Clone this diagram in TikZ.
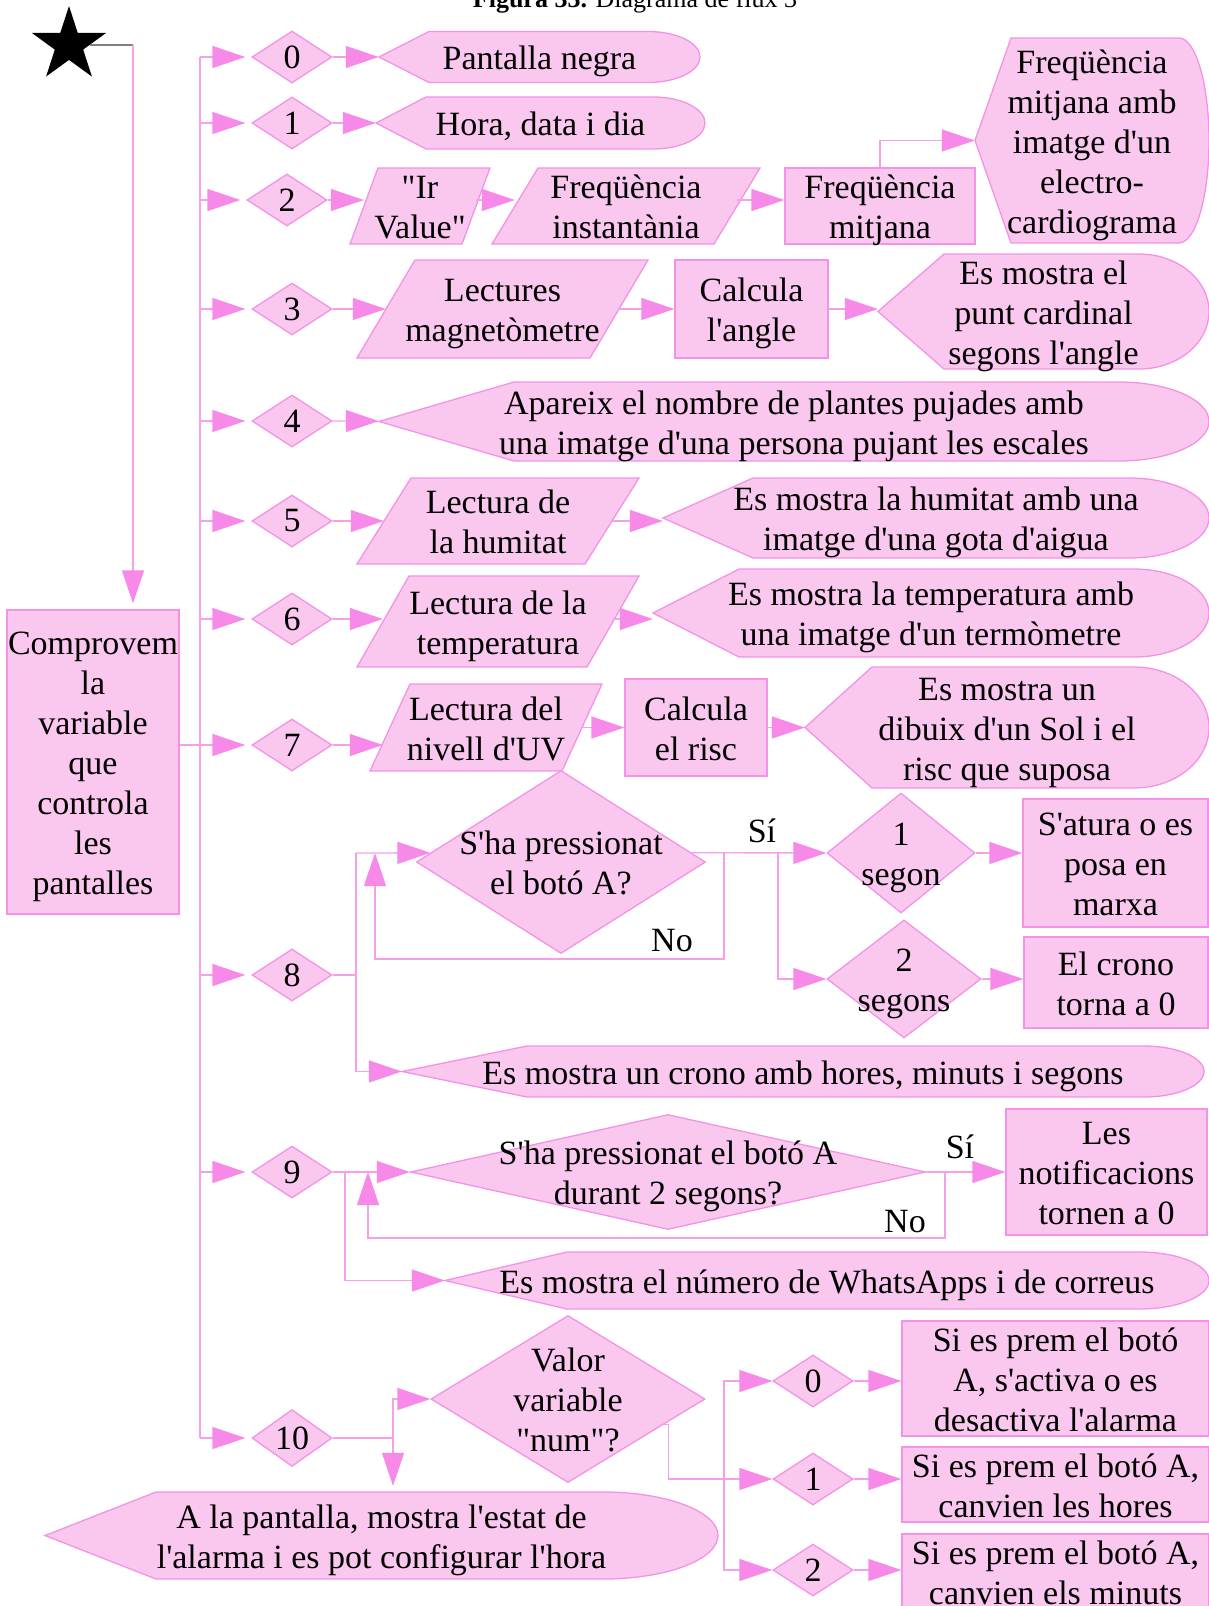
\documentclass[tikz,border=0pt]{standalone}
\usepackage{fontspec}
\setmainfont{Liberation Serif}[Ligatures=TeXOff]
\usetikzlibrary{arrows.meta,calc,shapes.geometric}
\definecolor{boxpink}{RGB}{250,200,238}
\definecolor{edgepink}{RGB}{243,146,230}
\definecolor{linkpink}{RGB}{246,160,236}
\definecolor{tippink}{RGB}{247,138,232}
\newcommand{\upstrut}{\rule{0pt}{33pt}}
\begin{document}
\begin{tikzpicture}[x=1pt,y=-1pt,font={\fontsize{34}{40}\selectfont}]
\tikzstyle{box}=[draw=edgepink,fill=boxpink,line width=1.3pt]
\tikzstyle{txt}=[inner sep=0pt,align=center,execute at begin node={\upstrut},execute at end node={\rule[-7.5pt]{0pt}{7.5pt}}]
\tikzstyle{proc}=[box,txt,inner ysep=-3pt]
\tikzstyle{dec}=[box,diamond,inner sep=0pt]
\tikzstyle{sel}=[dec,minimum width=80pt,minimum height=52pt]
\tikzstyle{wire}=[draw=linkpink,line width=1.3pt]
\tikzstyle{link}=[wire,-{Triangle[length=33pt,width=22pt,color=tippink]}]
\fill[white] (0,0) rectangle (1209,1606);
\useasboundingbox (0,0) rectangle (1209,1606);
\node[font={\fontsize{26}{30}\selectfont},anchor=base] (title) at (635,7) {\textbf{Figura 33.} Diagrama de flux 3};
% start and check box
\node[star,star points=5,star point ratio=2.618,fill=black,minimum size=78pt,inner sep=0pt] (start) at (69,45) {};
\coordinate (bend) at (133,45);
\node[proc,minimum width=172pt,minimum height=304pt] (cmp) at (93,762) {\upstrut Comprovem\\la\\variable\\que\\controla\\les\\pantalles};
% selector diamonds
\node[sel] (d0) at (292,57) {0};
\node[sel] (d1) at (292,123) {1};
\node[sel] (d2) at (287,200) {2};
\node[sel] (d3) at (292,309) {3};
\node[sel] (d4) at (292,421) {4};
\node[sel] (d5) at (292,521) {5};
\node[sel] (d6) at (292,619) {6};
\node[sel] (d7) at (292,745) {7};
\node[sel] (d8) at (292,975) {8};
\node[sel] (d9) at (292,1172) {9};
\node[sel] (d10) at (292,1438) {10};
\coordinate (trunk) at (200,0);
% row 0 and 1
\draw[box] (379,57) -- (429,31.5) -- (648,31.5) arc[start angle=90,end angle=-90,x radius=52pt,y radius=25.5pt] -- (429,82.5) -- cycle;
\node[txt,minimum width=321pt,minimum height=51pt] (pant) at (539.5,57) {Pantalla negra};
\draw[box] (376,123) -- (426,97) -- (653,97) arc[start angle=90,end angle=-90,x radius=52pt,y radius=26pt] -- (426,149) -- cycle;
\node[txt,minimum width=329pt,minimum height=52pt] (hora) at (540.5,123) {Hora, data i dia};
% row 2
\draw[box] (350,244) -- (378,168) -- (490,168) -- (462,244) -- cycle;
\node[txt,minimum width=112pt,minimum height=76pt] (ir) at (420,206) {\upstrut"Ir\\Value"};
\draw[box] (492,244) -- (538,168) -- (760,168) -- (714,244) -- cycle;
\node[txt,minimum width=222pt,minimum height=76pt] (inst) at (626,206) {\upstrut Freqüència\\instantània};
\node[proc,minimum width=190pt,minimum height=76pt] (mitj) at (880,206) {\upstrut Freqüència\\mitjana};
\draw[box] (975,140.5) -- (1011,38) -- (1179,38) arc[start angle=90,end angle=-90,x radius=30pt,y radius=102.5pt] -- (1011,243) -- cycle;
\node[txt,minimum width=234pt,minimum height=205pt] (ecg) at (1092,140.5) {\upstrut Freqüència\\mitjana amb\\imatge d'un\\electro-\\cardiograma};
% row 3
\draw[box] (357,358) -- (415,260) -- (648,260) -- (590,358) -- cycle;
\node[txt,minimum width=233pt,minimum height=98pt] (mag) at (502.5,309) {\upstrut Lectures\\magnetòmetre};
\node[proc,minimum width=153pt,minimum height=98pt] (ang) at (751.5,309) {\upstrut Calcula\\l'angle};
\draw[box] (878,311.5) -- (944,254) -- (1139,254) arc[start angle=90,end angle=-90,x radius=70pt,y radius=57.5pt] -- (944,369) -- cycle;
\node[txt,minimum width=331pt,minimum height=115pt] (card) at (1043.5,311.5) {\upstrut Es mostra el\\punt cardinal\\segons l'angle};
% row 4
\draw[box] (379,421.5) -- (514,382) -- (1119,382) arc[start angle=90,end angle=-90,x radius=90pt,y radius=39.5pt] -- (514,461) -- cycle;
\node[txt,minimum width=830pt,minimum height=79pt] (apar) at (794,421.5) {\upstrut Apareix el nombre de plantes pujades amb\\una imatge d'una persona pujant les escales};
% row 5
\draw[box] (357,564) -- (411,478) -- (639,478) -- (585,564) -- cycle;
\node[txt,minimum width=228pt,minimum height=86pt] (hum) at (498,521) {\upstrut Lectura de\\la humitat};
\draw[box] (663,518) -- (753,478) -- (1129,478) arc[start angle=90,end angle=-90,x radius=80pt,y radius=40pt] -- (753,558) -- cycle;
\node[txt,minimum width=546pt,minimum height=80pt] (humd) at (936,518) {\upstrut Es mostra la humitat amb una\\imatge d'una gota d'aigua};
% row 6
\draw[box] (357,667) -- (409,576) -- (639,576) -- (587,667) -- cycle;
\node[txt,minimum width=230pt,minimum height=91pt] (temp) at (498,621.5) {\upstrut Lectura de la\\temperatura};
\draw[box] (653,613) -- (739,569) -- (1134,569) arc[start angle=90,end angle=-90,x radius=75pt,y radius=44pt] -- (739,657) -- cycle;
\node[txt,minimum width=556pt,minimum height=88pt] (tempd) at (931,613) {\upstrut Es mostra la temperatura amb\\una imatge d'un termòmetre};
% row 7
\draw[box] (370,771) -- (410,684) -- (602,684) -- (562,771) -- cycle;
\node[txt,minimum width=192pt,minimum height=87pt] (uv) at (486,727.5) {\upstrut Lectura del\\nivell d'UV};
\node[proc,minimum width=142pt,minimum height=97pt] (risc) at (696,727.5) {\upstrut Calcula\\el risc};
\draw[box] (805,727.5) -- (872,667) -- (1134,667) arc[start angle=90,end angle=-90,x radius=75pt,y radius=60.5pt] -- (872,788) -- cycle;
\node[txt,minimum width=404pt,minimum height=121pt] (sold) at (1007,727.5) {\upstrut Es mostra un\\dibuix d'un Sol i el\\risc que suposa};
% row 8
\node[dec,minimum width=289pt,minimum height=183pt,label={[txt]center:{\upstrut S'ha pressionat\\el botó A?}}] (q8) at (561,862) {};
\node[dec,minimum width=148pt,minimum height=120pt,label={[txt]center:{\upstrut 1\\segon}}] (s1) at (901,853) {};
\node[dec,minimum width=154pt,minimum height=118pt,label={[txt]center:{\upstrut 2\\segons}}] (s2) at (904,979) {};
\node[proc,minimum width=185pt,minimum height=128pt] (atura) at (1115.5,863) {\upstrut S'atura o es\\posa en\\marxa};
\node[proc,minimum width=184pt,minimum height=91pt] (zero8) at (1116,982.5) {\upstrut El crono\\torna a 0};
\draw[box] (402,1071.5) -- (527,1046) -- (1144,1046) arc[start angle=90,end angle=-90,x radius=60pt,y radius=25.5pt] -- (527,1097) -- cycle;
\node[txt,minimum width=802pt,minimum height=51pt] (chrono) at (803,1071.5) {Es mostra un crono amb hores, minuts i segons};
\node[txt] (si8) at (762,830) {Sí};
\node[txt] (no8) at (672,939) {No};
\coordinate (j8) at (356,853);
\coordinate (fork8) at (778,853);
\coordinate (no8a) at (724,853);
\coordinate (back8) at (375,853);
% row 9
\node[dec,minimum width=515pt,minimum height=115pt,label={[txt]center:{\upstrut S'ha pressionat el botó A\\durant 2 segons?}}] (q9) at (668,1172) {};
\node[proc,minimum width=201pt,minimum height=126pt] (notif) at (1106.5,1172) {\upstrut Les\\notificacions\\tornen a 0};
\draw[box] (445,1280.5) -- (567,1252) -- (1139,1252) arc[start angle=90,end angle=-90,x radius=70pt,y radius=28.5pt] -- (567,1309) -- cycle;
\node[txt,minimum width=764pt,minimum height=57pt] (wapp) at (827,1280.5) {Es mostra el número de WhatsApps i de correus};
\node[txt] (si9) at (960,1146) {Sí};
\node[txt] (no9) at (905,1220) {No};
\coordinate (j9) at (345,1172);
\coordinate (no9a) at (945,1172);
\coordinate (back9) at (368,1172);
% row 10
\node[dec,minimum width=274pt,minimum height=167pt,label={[txt]center:{\upstrut Valor\\variable\\"num"?}}] (valor) at (568,1399) {};
\node[sel] (a0) at (813,1381) {0};
\node[sel] (a1) at (813,1479) {1};
\node[sel] (a2) at (813,1570) {2};
\node[proc,minimum width=307pt,minimum height=115pt] (al0) at (1055.5,1378.5) {\upstrut Si es prem el botó\\A, s'activa o es\\desactiva l'alarma};
\node[proc,minimum width=307pt,minimum height=75pt] (al1) at (1055.5,1484.5) {\upstrut Si es prem el botó A,\\canvien les hores};
\node[proc,minimum width=307pt,minimum height=75pt] (al2) at (1055.5,1571.5) {\upstrut Si es prem el botó A,\\canvien els minuts};
\draw[box] (45,1535.5) -- (156,1492) -- (603,1492) arc[start angle=90,end angle=-90,x radius=115pt,y radius=43.5pt] -- (156,1579) -- cycle;
\node[txt,minimum width=673pt,minimum height=87pt] (alview) at (381.5,1535.5) {\upstrut A la pantalla, mostra l'estat de\\l'alarma i es pot configurar l'hora};
\coordinate (j10) at (393,1438);
\coordinate (fork10) at (724,1479);
\coordinate (vx) at ($(valor.east)!0.3!(valor.south)$);
% connectors
\draw[draw=gray,line width=1.3pt] (start) -- (start -| bend);
\draw[link,shorten >=6pt] (bend) -- (bend |- cmp.north);
\draw[wire] (cmp.east |- d7) -- (d7 -| trunk);
\draw[wire] (d0 -| trunk) -- (d10 -| trunk);
\draw[link,shorten >=6pt] (d0 -| trunk) -- (d0);
\draw[link,shorten >=6pt] (d1 -| trunk) -- (d1);
\draw[link,shorten >=6pt] (d2 -| trunk) -- (d2);
\draw[link,shorten >=6pt] (d3 -| trunk) -- (d3);
\draw[link,shorten >=6pt] (d4 -| trunk) -- (d4);
\draw[link,shorten >=6pt] (d5 -| trunk) -- (d5);
\draw[link,shorten >=6pt] (d6 -| trunk) -- (d6);
\draw[link,shorten >=6pt] (d7 -| trunk) -- (d7);
\draw[link,shorten >=6pt] (d8 -| trunk) -- (d8);
\draw[link,shorten >=6pt] (d9 -| trunk) -- (d9);
\draw[link,shorten >=6pt] (d10 -| trunk) -- (d10);
\draw[link] (d0) -- (pant);
\draw[link] (d1) -- (hora);
\draw[link] (d2.east) -- (d2.east -| ir.west);
\draw[link] (ir.east |- d2) -- (d2 -| inst.west);
\draw[link] (inst.east |- d2) -- (d2 -| mitj.west);
\draw[link] (mitj.north) |- (ecg);
\draw[link] (d3) -- (mag);
\draw[link] (mag) -- (ang);
\draw[link] (ang.east) -- (ang.east -| card.west);
\draw[link] (d4) -- (apar);
\draw[link] (d5) -- (hum);
\draw[link] (hum.east) -- (hum.east -| humd.west);
\draw[link] (d6.east) -- (d6.east -| temp.west);
\draw[link] (temp.east |- d6) -- (d6 -| tempd.west);
\draw[link,shorten >=7pt] (d7.east) -- (d7.east -| uv.west);
\draw[link] (uv) -- (risc);
\draw[link] (risc) -- (sold);
\draw[wire] (d8.east) -| (j8);
\draw[link] (j8) -- ($(q8.west)!0.1!(q8.north)$);
\draw[link] (d8.east -| j8) |- (chrono);
\draw[link] ($(q8.east)!0.1!(q8.north)$) -- (s1);
\draw[link] (fork8) |- (s2);
\draw[link] (no8a) -- ++(0,106) -| (back8);
\draw[link] (s1.east) -- (s1.east -| atura.west);
\draw[link] (s2.east) -- (s2.east -| zero8.west);
\draw[link] (d9) -- (q9);
\draw[link] (j9) |- (wapp);
\draw[link] (no9a) -- ++(0,66) -| (back9);
\draw[link] (q9) -- (notif);
\draw[wire] (d10.east) -- (j10);
\draw[link] (j10) |- (valor);
\draw[link,shorten >=6pt] (j10) -- (j10 |- alview.north);
\draw[link] (vx) -- ++(4,0) |- (a1);
\draw[link] (fork10) |- (a0);
\draw[link] (fork10) |- (a2);
\draw[link] (a0.east) -- (a0.east -| al0.west);
\draw[link] (a1.east) -- (a1.east -| al1.west);
\draw[link] (a2.east) -- (a2.east -| al2.west);
\end{tikzpicture}
\end{document}
